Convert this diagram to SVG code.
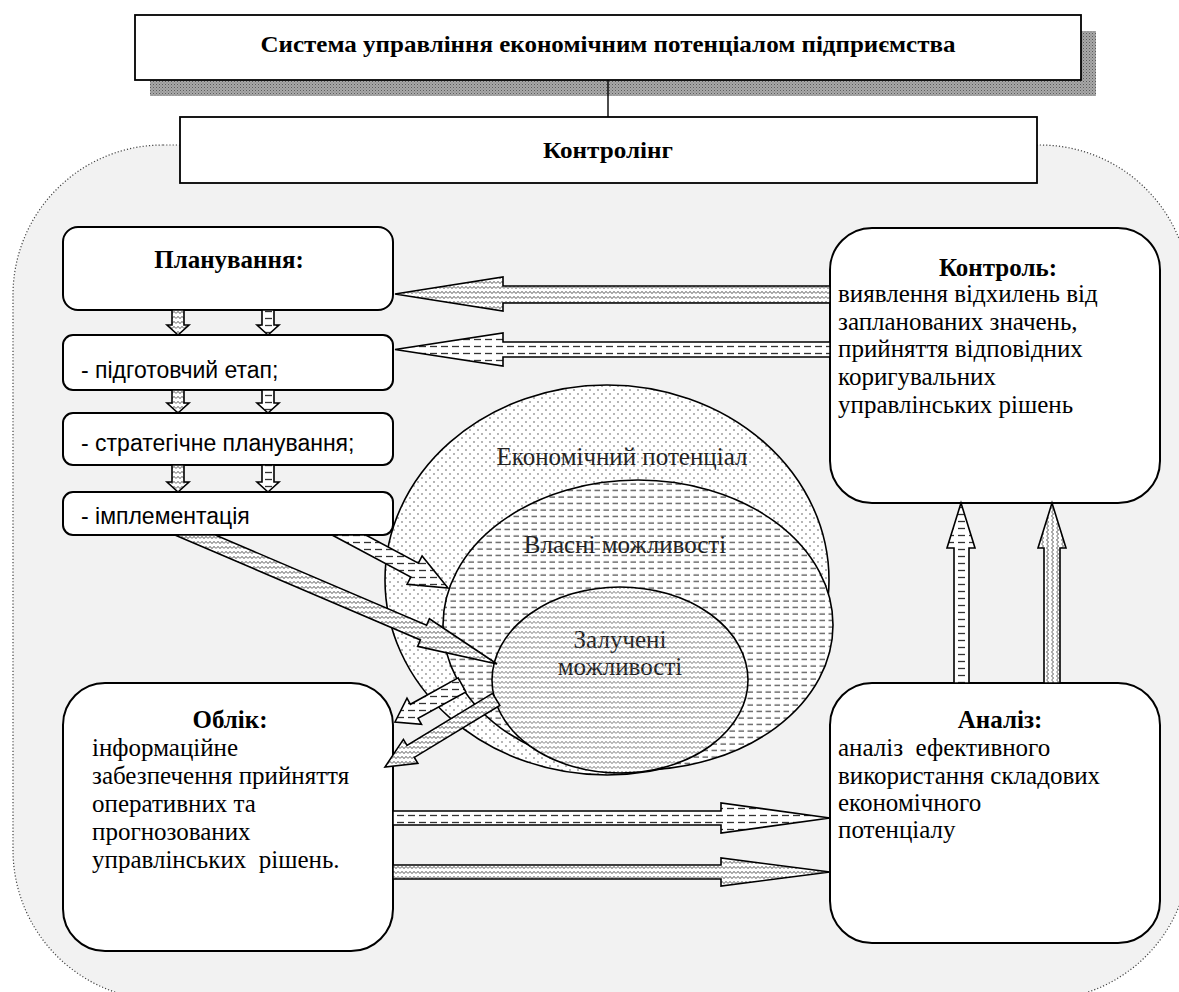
<svg xmlns="http://www.w3.org/2000/svg" width="1179" height="992" viewBox="0 0 1179 992">
<style>
.box{fill:#fff;stroke:#000;stroke-width:1.8}
.rbox{fill:#fff;stroke:#000;stroke-width:2}
.ttl{font-family:"Liberation Serif","DejaVu Serif",serif;font-weight:bold;fill:#000}
.body{font-family:"Liberation Serif","DejaVu Serif",serif;font-size:25px;fill:#000}
.step{font-family:"Liberation Sans","DejaVu Sans",sans-serif;font-size:23px;fill:#000}
.ell{font-family:"Liberation Serif","DejaVu Serif",serif;font-size:25px;fill:#222;text-anchor:middle}
.arr{stroke:#000;stroke-width:1.6;stroke-linejoin:miter}
.z{fill:url(#zig)}
.zv{fill:url(#zigv)}
.d{fill:url(#dash)}
</style>
<defs>
<pattern id="zig" width="8" height="5" patternUnits="userSpaceOnUse">
<rect width="8" height="5" fill="#fff"/>
<path d="M0,3.6 L2,1.4 L4,3.6 L6,1.4 L8,3.6" fill="none" stroke="#444" stroke-width="0.9"/>
</pattern>
<pattern id="zigv" width="8" height="5" patternUnits="userSpaceOnUse" patternTransform="rotate(90)">
<rect width="8" height="5" fill="#fff"/>
<path d="M0,3.6 L2,1.4 L4,3.6 L6,1.4 L8,3.6" fill="none" stroke="#444" stroke-width="0.9"/>
</pattern>
<pattern id="zigo" width="8" height="5" patternUnits="userSpaceOnUse">
<path d="M0,3.6 L2,1.4 L4,3.6 L6,1.4 L8,3.6" fill="none" stroke="#555" stroke-width="0.8"/>
</pattern>
<pattern id="dash" width="11" height="7" patternUnits="userSpaceOnUse">
<rect width="11" height="7" fill="#fff"/>
<path d="M1,3.5 H8" stroke="#333" stroke-width="1.3"/>
</pattern>
<pattern id="dasho" width="9" height="6.5" patternUnits="userSpaceOnUse">
<path d="M0.5,3 H6" stroke="#333" stroke-width="1.1"/>
</pattern>
<pattern id="dots" width="8" height="8" patternUnits="userSpaceOnUse">
<circle cx="2" cy="2" r="0.7" fill="#333"/>
<circle cx="6" cy="6" r="0.7" fill="#333"/>
</pattern>
<pattern id="shade" width="3" height="3" patternUnits="userSpaceOnUse">
<rect width="3" height="3" fill="#a8a8a8"/>
<rect width="1" height="1" fill="#5a5a5a"/>
<rect x="1.5" y="1.5" width="1" height="1" fill="#7a7a7a"/>
</pattern>
</defs>

<g id="background">
<rect x="13" y="145" width="1177" height="855" rx="150" ry="150" fill="#f2f2f2" stroke="#444" stroke-width="1.2" stroke-dasharray="1.2 2"/>
</g>

<g id="system">
<rect x="150" y="31" width="946" height="65" fill="url(#shade)"/>
<rect class="box" x="135" y="15" width="946" height="65"/>
<text class="ttl" x="608" y="52" font-size="24" text-anchor="middle" textLength="695" lengthAdjust="spacingAndGlyphs">Система управління економічним потенціалом підприємства</text>
</g>

<g id="controlling">
<rect class="box" x="180" y="117" width="857" height="66"/>
<text class="ttl" x="608" y="158" font-size="24" text-anchor="middle" textLength="130" lengthAdjust="spacingAndGlyphs">Контролінг</text>
</g>

<g id="potential">
<ellipse cx="607" cy="580" rx="222" ry="195" fill="#fff"/>
<text class="ell" x="622" y="465">Економічний потенціал</text>
<ellipse cx="607" cy="580" rx="222" ry="195" fill="url(#dots)" stroke="#000" stroke-width="1.6"/>
<g id="own">
<ellipse cx="638" cy="625" rx="195" ry="145" fill="#fff"/>
<text class="ell" x="625" y="553">Власні можливості</text>
<ellipse cx="638" cy="625" rx="195" ry="145" fill="url(#dasho)" stroke="#000" stroke-width="1.6"/>
</g>
<g id="attracted">
<ellipse cx="620" cy="680" rx="128" ry="93" fill="#fff"/>
<text class="ell" x="620" y="648">Залучені</text>
<text class="ell" x="620" y="675">можливості</text>
<ellipse cx="620" cy="680" rx="128" ry="93" fill="url(#zigo)" stroke="#000" stroke-width="1.6"/>
</g>
</g>

<g id="planning">
<rect class="rbox" x="63" y="227" width="330" height="83" rx="15"/>
<text class="ttl" x="229" y="268" font-size="25" text-anchor="middle">Планування:</text>
</g>
<g id="step1">
<rect class="rbox" x="63" y="335" width="330" height="55" rx="10"/>
<text class="step" x="81" y="378">- підготовчий етап;</text>
</g>
<g id="step2">
<rect class="rbox" x="63" y="413" width="330" height="52" rx="10"/>
<text class="step" x="81" y="451">- стратегічне планування;</text>
</g>
<g id="step3">
<rect class="rbox" x="63" y="492" width="330" height="43" rx="10"/>
<text class="step" x="81" y="524">- імплементація</text>
</g>

<g id="control">
<rect class="rbox" x="830" y="228" width="330" height="275" rx="42"/>
<text class="ttl" x="998" y="276" font-size="25" text-anchor="middle">Контроль:</text>
<text class="body" x="838" y="302">виявлення відхилень від</text>
<text class="body" x="838" y="330">запланованих значень,</text>
<text class="body" x="838" y="357">прийняття відповідних</text>
<text class="body" x="838" y="385">коригувальних</text>
<text class="body" x="838" y="413">управлінських рішень</text>
</g>

<g id="accounting">
<rect class="rbox" x="63" y="683" width="330" height="268" rx="42"/>
<text class="ttl" x="230" y="728" font-size="25" text-anchor="middle">Облік:</text>
<text class="body" x="92" y="756">інформаційне</text>
<text class="body" x="92" y="784">забезпечення прийняття</text>
<text class="body" x="92" y="812">оперативних та</text>
<text class="body" x="92" y="840">прогнозованих</text>
<text class="body" x="92" y="868" xml:space="preserve">управлінських  рішень.</text>
</g>

<g id="analysis">
<rect class="rbox" x="830" y="683" width="330" height="260" rx="42"/>
<text class="ttl" x="1000" y="728" font-size="25" text-anchor="middle">Аналіз:</text>
<text class="body" x="838" y="756" xml:space="preserve">аналіз  ефективного</text>
<text class="body" x="838" y="784">використання складових</text>
<text class="body" x="838" y="811">економічного</text>
<text class="body" x="838" y="838">потенціалу</text>
</g>

<g id="connectors">
<line x1="608" y1="80" x2="608" y2="117" stroke="#000" stroke-width="1.4"/>
<polygon class="arr z" points="172,310 172,325 167,325 178,335 189,325 184,325 184,310"/>
<polygon class="arr d" points="262,310 262,325 257,325 268,335 279,325 274,325 274,310"/>
<polygon class="arr z" points="172,390 172,403 167,403 178,413 189,403 184,403 184,390"/>
<polygon class="arr d" points="262,390 262,403 257,403 268,413 279,403 274,403 274,390"/>
<polygon class="arr z" points="172,465 172,482 167,482 178,492 189,482 184,482 184,465"/>
<polygon class="arr d" points="262,465 262,482 257,482 268,492 279,482 274,482 274,465"/>
<polygon class="arr z" points="830,286 503,286 503,277 395,294 503,311 503,303 830,303"/>
<polygon class="arr d" points="830,342 503,342 503,333 395,349.5 503,366 503,357 830,357"/>
<polygon class="arr d" points="393,811 721,811 721,803 830,818 721,833 721,825 393,825"/>
<polygon class="arr z" points="393,865 721,865 721,858 830,872 721,886 721,879 393,879"/>
<polygon class="arr d" points="954,683 954,548 947,548 961,503 975,548 969,548 969,683"/>
<polygon class="arr zv" points="1044,683 1044,548 1038,548 1052,503 1066,548 1060,548 1060,683"/>
<polygon class="arr d" points="332,535 410.8,577.1 407.1,584.2 448,588 422.1,556 418.4,563.1 365.8,535"/>
<polygon class="arr z" points="174.9,535 420.4,640 417.6,646.4 497,664 429.4,618.8 426.6,625.3 215.4,535"/>
<polygon class="arr d" points="458.1,677.9 410.4,704.3 407,698.2 395,722 421.5,724.4 418.1,718.3 465.9,691.9"/>
<polygon class="arr z" points="492.5,693.4 407,745.4 403.4,739.4 385,767 417.9,763.4 414.3,757.4 499.8,705.4"/>
</g>
</svg>
